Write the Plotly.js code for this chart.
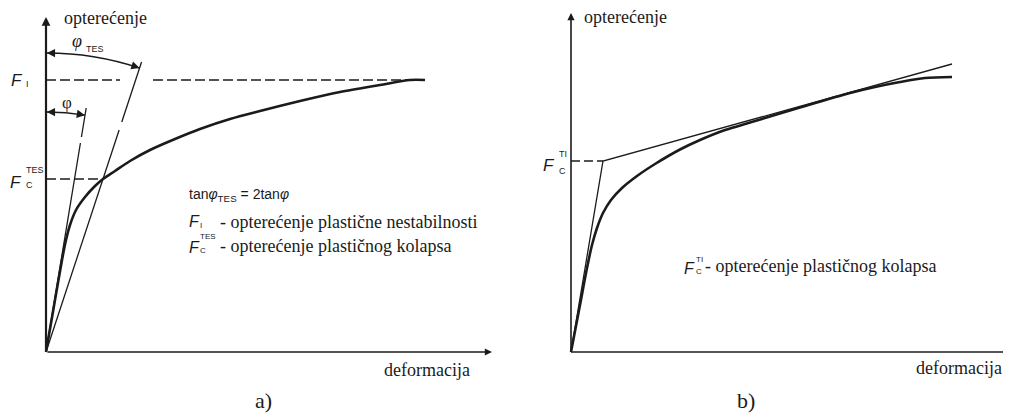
<!DOCTYPE html>
<html>
<head>
<meta charset="utf-8">
<script src="https://cdn.plot.ly/plotly-3.0.1.min.js"></script>
<style>
  html, body { margin: 0; padding: 0; background: #fff; }
  #chart { width: 1016px; height: 413px; }
</style>
</head>
<body>
<div id="chart"></div>
<script>
// Load (opterećenje) vs. deformation (deformacija); both axes use 1 unit = 10 px.
const W = 1016, H = 413;

// ---- a) twice-elastic-slope (TES) criterion ----
const curveA_def  = [0, 0.9, 1.6, 2.0, 2.4, 3.0, 3.9, 4.9, 5.7, 6.9, 8.4, 10.4, 12.9, 15.4, 18.4, 21.4, 25.4, 29.4, 33.4, 36.4, 37.9];
const curveA_load = [0, 5.2, 9.2, 11.2, 12.7, 14.2, 15.5, 16.6, 17.3, 18.1, 19.1, 20.2, 21.3, 22.3, 23.3, 24.1, 25.1, 26.0, 26.7, 27.2, 27.2];
const F_I = 27.2;                 // plastic instability load
const F_I_dash = [[0, 7.4], [10.7, 37.9]];   // dashed reference segments at F_I
const F_C_TES = 17.3;             // plastic collapse load (TES)
const def_C_TES = 5.7;            // deformation where the TES line meets the curve
const tesLineLoad = [0, 22.2, null, 23.0, 29.0];  // TES line, with a break
const phiLineLoad = [0, 20.9, null, 21.5, 24.4];  // elastic line, with a break
const R_TES = 29.9, R_PHI = 24.0;  // radii of the angle arcs

// ---- b) tangent-intersection (TI) criterion ----
const curveB_def  = [0, 0.9, 1.6, 2.1, 2.6, 3.2, 4.0, 5.1, 6.6, 8.4, 10.9, 12.9, 15.4, 17.9, 22.9, 27.9, 30.4, 32.9, 35.4, 38.1];
const curveB_load = [0, 4.7, 8.4, 10.7, 12.4, 13.9, 15.2, 16.4, 17.6, 18.8, 20.25, 21.2, 22.2, 22.95, 24.45, 25.9, 26.5, 27.0, 27.4, 27.5];
const F_C_TI = 19.1;              // plastic collapse load (TI)
const def_C_TI = 3.2;             // knee of the two tangent lines
const tangentEnd = [38.1, 28.8];  // end of the plastic tangent

// slopes of the angle lines (measured from the load axis)
const tanTES = def_C_TES / F_C_TES;
const tanPhi = tanTES / 2;        // tanφ_TES = 2·tanφ

const INK = '#1b1b1b';
const SERIF = '"Liberation Serif", "Times New Roman", Tinos, "DejaVu Serif", serif';
const SANS = '"Liberation Sans", Arial, Arimo, sans-serif';

const traces = [
  // a) load curve
  { x: curveA_def, y: curveA_load, xaxis: 'x', yaxis: 'y', mode: 'lines',
    line: { color: INK, width: 2.6, shape: 'spline', smoothing: 0.8 } },
  // a) TES line
  { x: tesLineLoad.map(v => v === null ? null : v * tanTES), y: tesLineLoad, xaxis: 'x', yaxis: 'y',
    mode: 'lines', connectgaps: false, line: { color: INK, width: 1.3 } },
  // a) elastic line
  { x: phiLineLoad.map(v => v === null ? null : v * tanPhi), y: phiLineLoad, xaxis: 'x', yaxis: 'y',
    mode: 'lines', connectgaps: false, line: { color: INK, width: 1.3 } },
  // a) F_I dashed level
  ...F_I_dash.map(seg => ({ x: seg, y: [F_I, F_I], xaxis: 'x', yaxis: 'y', mode: 'lines',
    line: { color: INK, width: 1.3, dash: '10px,4px' } })),
  // a) F_C^TES dashed level
  { x: [0, def_C_TES], y: [F_C_TES, F_C_TES], xaxis: 'x', yaxis: 'y', mode: 'lines',
    line: { color: INK, width: 1.3, dash: '10px,4px' } },

  // b) load curve
  { x: curveB_def, y: curveB_load, xaxis: 'x2', yaxis: 'y2', mode: 'lines',
    line: { color: INK, width: 2.6, shape: 'spline', smoothing: 0.8 } },
  // b) elastic and plastic tangents
  { x: [0, def_C_TI, tangentEnd[0]], y: [0, F_C_TI, tangentEnd[1]], xaxis: 'x2', yaxis: 'y2',
    mode: 'lines', line: { color: INK, width: 1.3 } },
  // b) F_C^TI dashed level
  { x: [0, def_C_TI], y: [F_C_TI, F_C_TI], xaxis: 'x2', yaxis: 'y2', mode: 'lines',
    line: { color: INK, width: 1.3, dash: '9px,4px' } }
];

// circular arc from the load axis to an angle line, as a quadratic Bézier
function arcPath(R, tanT) {
  const t = Math.atan(tanT);
  const cx = R * Math.tan(t / 2), cy = R;
  const ex = R * Math.sin(t), ey = R * Math.cos(t);
  return { path: `M 0.08,${R} Q ${cx},${cy} ${ex},${ey}`, start: [0.08, R], end: [ex, ey], t };
}
const arcTES = arcPath(R_TES, tanTES);
const arcPhi = arcPath(R_PHI, tanPhi);

const shapes = [
  { type: 'path', xref: 'x', yref: 'y', path: arcTES.path, line: { color: INK, width: 1.3 } },
  { type: 'path', xref: 'x', yref: 'y', path: arcPhi.path, line: { color: INK, width: 1.3 } },
  // b) deformation axis
  { type: 'line', xref: 'x2', yref: 'y2', x0: 0, y0: 0, x1: 43.2, y1: 0, line: { color: INK, width: 1.6 } }
];

function arrow(xref, yref, x, y, ax, ay, width, size, dataTail) {
  const a = { xref, yref, x, y, ax, ay, text: '', showarrow: true, arrowhead: 2,
    arrowsize: size, arrowwidth: width, arrowcolor: INK, standoff: 0, startstandoff: 0 };
  if (dataTail) { a.axref = xref; a.ayref = yref; }
  return a;
}
function arcArrows(arc, L) {
  const c = Math.cos(arc.t), s = Math.sin(arc.t);
  return [
    arrow('x', 'y', arc.start[0], arc.start[1], L, 0, 1.1, 1.5),
    arrow('x', 'y', arc.end[0], arc.end[1], -L * c, -L * s, 1.1, 1.5)
  ];
}

const px = v => v / W;          // paper x from a horizontal pixel position
const py = v => 1 - v / H;      // paper y from a vertical pixel position

function txt(text, x, y, opts) {
  return Object.assign({ text, x, y, xref: 'paper', yref: 'paper', showarrow: false,
    xanchor: 'left', yanchor: 'middle', font: { family: SERIF, size: 18, color: INK } }, opts || {});
}
function sans(size, italic) {
  return { family: SANS, size, color: INK, style: italic ? 'italic' : 'normal' };
}

const annotations = [
  // axes
  arrow('x', 'y', 0, 33.5, 0, 0, 2.2, 0.8, true),
  arrow('x', 'y', 44.6, 0, 0, 0, 1.6, 0.9, true),
  arrow('x2', 'y2', 0, 33.9, 0, 0, 1.6, 0.9, true),
  ...arcArrows(arcTES, 9),
  ...arcArrows(arcPhi, 9),

  // a) labels
  txt('opterećenje', px(62), py(18)),
  txt('deformacija', px(382), py(370)),
  txt('a)', px(263), py(400), { xanchor: 'center', font: { family: SERIF, size: 22, color: INK } }),
  txt('φ', px(67), py(102), { xanchor: 'center', font: { family: SERIF, size: 17, color: INK } }),
  txt('<i>φ</i>', px(77), py(41), { xanchor: 'center', font: { family: SERIF, size: 18, color: INK } }),
  txt('TES', px(84), py(49), { font: sans(9) }),
  // F_I on the load axis
  txt('F', px(17), F_I, { yref: 'y', xanchor: 'center', font: sans(17, true) }),
  txt('I', px(24), F_I, { yref: 'y', yshift: -4, font: sans(9) }),
  // F_C^TES on the load axis
  txt('F', px(16), F_C_TES, { yref: 'y', yshift: -3, xanchor: 'center', font: sans(17, true) }),
  txt('TES', px(24), F_C_TES, { yref: 'y', yshift: 9, font: sans(9) }),
  txt('C', px(24), F_C_TES, { yref: 'y', yshift: -6, font: sans(9) }),
  // legend block
  txt('tan<i>φ</i><sub>TES</sub> = 2tan<i>φ</i>', px(187), py(195), { font: sans(14) }),
  txt('F', px(187), py(222), { font: sans(16, true) }),
  txt('I', px(198), py(225), { font: sans(8) }),
  txt('- opterećenje plastične nestabilnosti', px(218), py(222)),
  txt('F', px(187), py(247), { font: sans(16, true) }),
  txt('TES', px(198), py(236), { font: sans(8) }),
  txt('C', px(198), py(250), { font: sans(8) }),
  txt('- opterećenje plastičnog kolapsa', px(218), py(246)),

  // b) labels
  txt('opterećenje', px(582), py(17)),
  txt('deformacija', px(914), py(368)),
  txt('b)', px(746), py(400), { xanchor: 'center', font: { family: SERIF, size: 22, color: INK } }),
  txt('F', px(549), F_C_TI, { yref: 'y2', yshift: -4, xanchor: 'center', font: sans(17, true) }),
  txt('TI', px(557), F_C_TI, { yref: 'y2', yshift: 7, font: sans(9) }),
  txt('C', px(557), F_C_TI, { yref: 'y2', yshift: -10, font: sans(9) }),
  txt('F', px(682), py(268), { font: sans(16, true) }),
  txt('TI', px(694), py(259), { font: sans(8) }),
  txt('C', px(694), py(271), { font: sans(8) }),
  txt('- opterećenje plastičnog kolapsa', px(703), py(266))
];

const axBase = { visible: false, showgrid: false, zeroline: false, fixedrange: true };
const layout = {
  width: W, height: H,
  margin: { l: 0, r: 0, t: 0, b: 0, pad: 0 },
  paper_bgcolor: '#fff', plot_bgcolor: '#fff',
  showlegend: false,
  font: { family: SERIF, color: INK },
  xaxis:  Object.assign({}, axBase, { domain: [36 / W, 500 / W], range: [-1.0, 45.4], anchor: 'y' }),
  yaxis:  Object.assign({}, axBase, { domain: [47 / H, 1], range: [-1.4, 35.2], anchor: 'x' }),
  xaxis2: Object.assign({}, axBase, { domain: [561 / W, 1016 / W], range: [-1.0, 44.5], anchor: 'y2' }),
  yaxis2: Object.assign({}, axBase, { domain: [47 / H, 1], range: [-1.4, 35.2], anchor: 'x2' }),
  shapes, annotations
};

Plotly.newPlot('chart', traces, layout, { staticPlot: true, displayModeBar: false });
</script>
</body>
</html>
